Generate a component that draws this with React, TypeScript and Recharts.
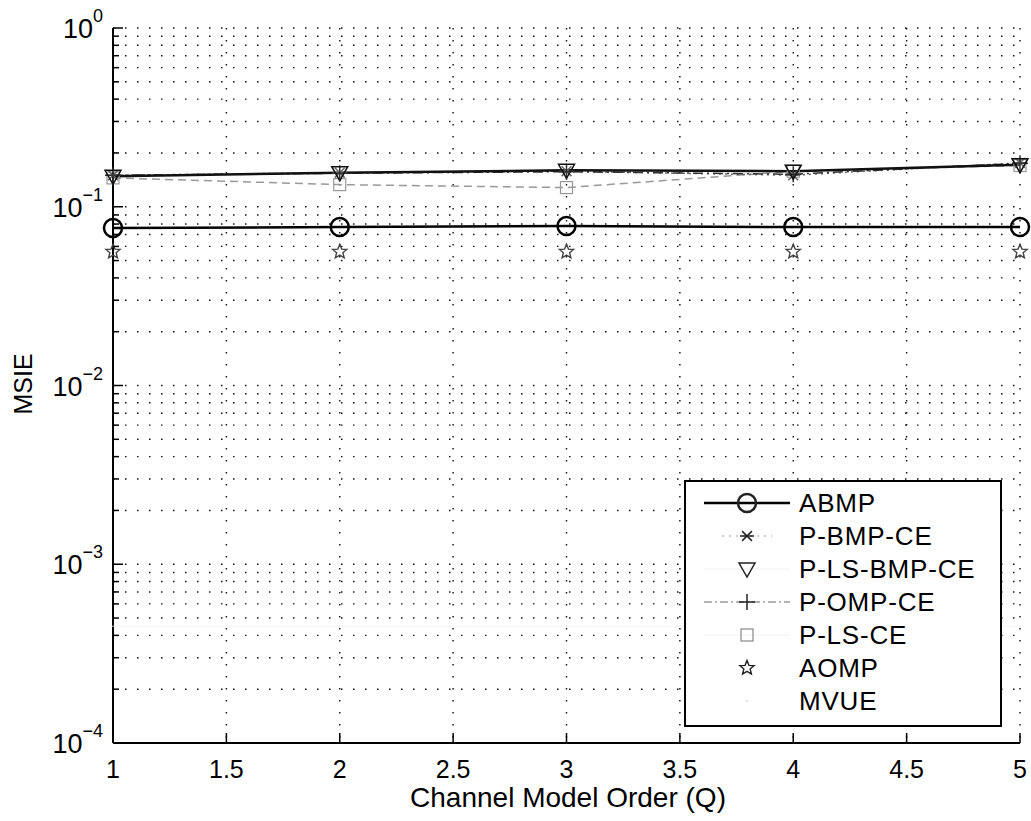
import React from "react";
import {
  LineChart,
  Line,
  XAxis,
  YAxis,
  CartesianGrid,
  Legend,
} from "recharts";

const qValues = [1, 2, 3, 4, 5];
const abmp = [0.076, 0.077, 0.078, 0.077, 0.077];
const pBmpCe = [0.15, 0.155, 0.158, 0.15, 0.176];
const pLsBmpCe = [0.148, 0.155, 0.16, 0.158, 0.172];
const pOmpCe = [0.15, 0.154, 0.157, 0.152, 0.175];
const pLsCe = [0.145, 0.133, 0.128, 0.158, 0.17];
const aomp = [0.056, 0.056, 0.056, 0.056, 0.056];
const mvue = [0.00045, 0.00045, 0.00045, 0.00045, 0.00045];

const xTicks = [1, 1.5, 2, 2.5, 3, 3.5, 4, 4.5, 5];
const yDecades = [1e-4, 1e-3, 1e-2, 1e-1, 1];
const yExponents = ["−4", "−3", "−2", "−1", "0"];
const minorMantissas = [2, 3, 4, 5, 6, 7, 8, 9];

const yTicks: number[] = [];
yDecades.forEach((d, i) => {
  yTicks.push(d);
  if (i < yDecades.length - 1) minorMantissas.forEach((m) => yTicks.push(m * d));
});

const data = qValues.map((q, i) => ({
  q,
  abmp: abmp[i],
  pBmpCe: pBmpCe[i],
  pLsBmpCe: pLsBmpCe[i],
  pOmpCe: pOmpCe[i],
  pLsCe: pLsCe[i],
  aomp: aomp[i],
  mvue: mvue[i],
}));

const FONT = "'Liberation Sans', Arial, Helvetica, sans-serif";

const isDecade = (v: number) => yDecades.some((d) => Math.abs(v - d) / d < 1e-6);

// marker shapes
const Marker = ({ kind, cx, cy, color }: { kind: string; cx: number; cy: number; color: string }) => {
  if (kind === "circle")
    return <circle cx={cx} cy={cy} r={9} fill="none" stroke={color} strokeWidth={2.5} />;
  if (kind === "asterisk") {
    const s = 7;
    return (
      <g stroke={color} strokeWidth={1.5}>
        <line x1={cx - s} y1={cy} x2={cx + s} y2={cy} />
        <line x1={cx - s * 0.7} y1={cy - s * 0.7} x2={cx + s * 0.7} y2={cy + s * 0.7} />
        <line x1={cx - s * 0.7} y1={cy + s * 0.7} x2={cx + s * 0.7} y2={cy - s * 0.7} />
      </g>
    );
  }
  if (kind === "tri")
    return (
      <polygon
        points={`${cx - 8},${cy - 6} ${cx + 8},${cy - 6} ${cx},${cy + 8}`}
        fill="none"
        stroke={color}
        strokeWidth={1.5}
      />
    );
  if (kind === "plus")
    return (
      <g stroke={color} strokeWidth={1.5}>
        <line x1={cx - 8} y1={cy} x2={cx + 8} y2={cy} />
        <line x1={cx} y1={cy - 8} x2={cx} y2={cy + 8} />
      </g>
    );
  if (kind === "square")
    return <rect x={cx - 6} y={cy - 6} width={12} height={12} fill="none" stroke={color} strokeWidth={1.2} />;
  if (kind === "star") {
    const pts: string[] = [];
    for (let k = 0; k < 10; k++) {
      const r = k % 2 === 0 ? 7.5 : 3.3;
      const a = -Math.PI / 2 + (k * Math.PI) / 5;
      pts.push(`${cx + r * Math.cos(a)},${cy + r * Math.sin(a)}`);
    }
    return <polygon points={pts.join(" ")} fill="none" stroke={color} strokeWidth={1.4} />;
  }
  if (kind === "point") return <circle cx={cx} cy={cy} r={0.8} fill={color} />;
  return null;
};

const dotFor = (kind: string, color: string) => (props: any) =>
  <g key={`${kind}-${props.index}`}><Marker kind={kind} cx={props.cx} cy={props.cy} color={color} /></g>;

const series = [
  { key: "mvue", name: "MVUE", kind: "point", color: "#f3f3f3", dash: "", width: 1 },
  { key: "aomp", name: "AOMP", kind: "star", color: "#444", dash: "", width: 0 },
  { key: "pLsCe", name: "P-LS-CE", kind: "square", color: "#999", dash: "8 5", width: 1.5 },
  { key: "pBmpCe", name: "P-BMP-CE", kind: "asterisk", color: "#666", dash: "2 4", width: 1.5 },
  { key: "pOmpCe", name: "P-OMP-CE", kind: "plus", color: "#333", dash: "10 4 2 4", width: 1.5 },
  { key: "pLsBmpCe", name: "P-LS-BMP-CE", kind: "tri", color: "#111", dash: "", width: 2.5 },
  { key: "abmp", name: "ABMP", kind: "circle", color: "#000", dash: "", width: 2.5 },
];

const legendOrder = ["abmp", "pBmpCe", "pLsBmpCe", "pOmpCe", "pLsCe", "aomp", "mvue"];
const legendLines: Record<string, { stroke: string; dash: string; width: number; x1: number; x2: number }> = {
  abmp: { stroke: "#000", dash: "", width: 2.5, x1: 18, x2: 104 },
  pBmpCe: { stroke: "#999", dash: "2 5", width: 1.2, x1: 36, x2: 86 },
  pLsBmpCe: { stroke: "#f0f0f0", dash: "", width: 1, x1: 18, x2: 104 },
  pOmpCe: { stroke: "#666", dash: "8 3 2 3", width: 1.2, x1: 18, x2: 104 },
  pLsCe: { stroke: "#f0f0f0", dash: "", width: 1, x1: 18, x2: 104 },
  aomp: { stroke: "none", dash: "", width: 0, x1: 18, x2: 104 },
  mvue: { stroke: "none", dash: "", width: 0, x1: 18, x2: 104 },
};

const LegendBox = () => (
  <div
    style={{
      position: "absolute",
      left: 684,
      top: 480,
      width: 318,
      height: 247,
      boxSizing: "border-box",
      border: "2px solid #000",
      background: "#fff",
    }}
  >
    <svg width={314} height={243}>
      {legendOrder.map((k, i) => {
        const s = series.find((x) => x.key === k)!;
        const l = legendLines[k];
        const y = 21 + i * 33;
        return (
          <g key={k}>
            {l.width > 0 && (
              <line x1={l.x1} y1={y} x2={l.x2} y2={y} stroke={l.stroke} strokeWidth={l.width} strokeDasharray={l.dash || undefined} />
            )}
            <Marker kind={s.kind} cx={61} cy={y} color={k === "pLsCe" ? "#888" : k === "mvue" ? "#bbb" : "#222"} />
            <text x={113} y={y + 9} fontFamily={FONT} fontSize={26} fill="#000" letterSpacing={0.8}>
              {s.name}
            </text>
          </g>
        );
      })}
    </svg>
  </div>
);

const BottomTick = (props: any) => {
  const { x, y, payload } = props;
  return (
    <g>
      <line x1={x} y1={y} x2={x} y2={y - 10} stroke="#000" strokeWidth={1.5} />
      <text x={x} y={y + 35} textAnchor="middle" fontFamily={FONT} fontSize={25} fill="#000">
        {payload.value}
      </text>
    </g>
  );
};

const TopTick = (props: any) => {
  const { x, y } = props;
  return <line x1={x} y1={y} x2={x} y2={y + 10} stroke="#000" strokeWidth={1.5} />;
};

const LeftTick = (props: any) => {
  const { x, y, payload } = props;
  const major = isDecade(payload.value);
  const idx = yDecades.findIndex((d) => Math.abs(payload.value - d) / d < 1e-6);
  return (
    <g>
      <line x1={x} y1={y} x2={x + (major ? 10 : 6)} y2={y} stroke="#000" strokeWidth={1.5} />
      {major && (
        <text x={x - 10} y={y + 10} textAnchor="end" fontFamily={FONT} fontSize={27} fill="#000">
          <tspan>10</tspan>
          <tspan dy={-16} fontSize={18}>
            {yExponents[idx]}
          </tspan>
        </text>
      )}
    </g>
  );
};

const RightTick = (props: any) => {
  const { x, y, payload } = props;
  const major = isDecade(payload.value);
  return <line x1={x} y1={y} x2={x - (major ? 10 : 6)} y2={y} stroke="#000" strokeWidth={1.5} />;
};

export default function App() {
  return (
    <div style={{ position: "absolute", left: 0, top: 0, width: 1031, height: 821, background: "#fff" }}>
      <LineChart width={1031} height={821} data={data} margin={{ top: 28, right: 11, left: 0, bottom: 0 }}>
        <CartesianGrid
          xAxisId="bottom"
          yAxisId="left"
          stroke="#111"
          strokeWidth={1.4}
          strokeDasharray="1.5 10.5"
        />
        <XAxis
          xAxisId="bottom"
          dataKey="q"
          type="number"
          domain={[1, 5]}
          ticks={xTicks}
          height={78}
          tickSize={0}
          tickMargin={0}
          tickLine={false}
          axisLine={{ stroke: "#000", strokeWidth: 2 }}
          tick={<BottomTick />}
          interval={0}
        />
        <XAxis
          xAxisId="top"
          orientation="top"
          dataKey="q"
          type="number"
          domain={[1, 5]}
          ticks={xTicks}
          height={0}
          tickSize={0}
          tickMargin={0}
          tickLine={false}
          axisLine={{ stroke: "#000", strokeWidth: 2 }}
          tick={<TopTick />}
          interval={0}
        />
        <YAxis
          yAxisId="left"
          scale="log"
          domain={[1e-4, 1]}
          allowDataOverflow
          ticks={yTicks}
          width={113}
          tickSize={0}
          tickMargin={0}
          tickLine={false}
          axisLine={{ stroke: "#000", strokeWidth: 2 }}
          tick={<LeftTick />}
          interval={0}
        />
        <YAxis
          yAxisId="right"
          orientation="right"
          scale="log"
          domain={[1e-4, 1]}
          allowDataOverflow
          ticks={yTicks}
          width={0}
          tickSize={0}
          tickMargin={0}
          tickLine={false}
          axisLine={{ stroke: "#000", strokeWidth: 2 }}
          tick={<RightTick />}
          interval={0}
        />
        {series.map((s) => (
          <Line
            key={s.key}
            xAxisId="bottom"
            yAxisId="left"
            dataKey={s.key}
            name={s.name}
            stroke={s.width > 0 ? s.color : "none"}
            strokeWidth={s.width}
            strokeDasharray={s.dash || undefined}
            dot={dotFor(s.kind, s.kind === "point" ? "#e4e4e4" : s.kind === "circle" ? "#000" : s.color)}
            activeDot={false}
            isAnimationActive={false}
          />
        ))}
        <Legend content={() => null} />
        <text x={568} y={807} textAnchor="middle" fontFamily={FONT} fontSize={28} fill="#000">
          Channel Model Order (Q)
        </text>
        <text
          x={32}
          y={384}
          transform="rotate(-90 32 384)"
          textAnchor="middle"
          fontFamily={FONT}
          fontSize={25}
          fill="#000"
        >
          MSIE
        </text>
      </LineChart>
      <LegendBox />
    </div>
  );
}
